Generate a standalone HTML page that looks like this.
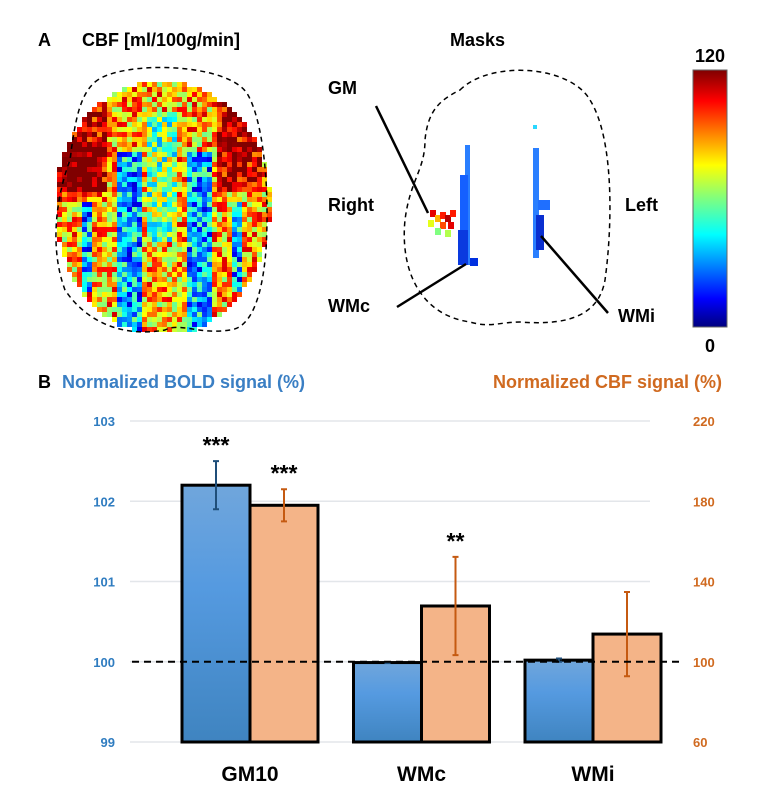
<!DOCTYPE html>
<html><head><meta charset="utf-8">
<style>
body{margin:0;background:#fff;font-family:"Liberation Sans",sans-serif;}
svg text{font-family:"Liberation Sans",sans-serif;font-weight:bold;}
</style></head>
<body>
<svg id="fig" width="768" height="804" viewBox="0 0 768 804">
  <text x="38" y="46" font-size="18">A</text>
  <text x="82" y="46" font-size="18">CBF [ml/100g/min]</text>
  <g id="brain"></g>
  <path d="M95,82 C120,60 230,62 248,95 C262,120 270,180 266,250 C262,300 250,328 230,330 C200,335 180,322 165,330 C120,338 85,320 65,290 C50,250 55,200 70,160 C75,120 80,95 95,82 Z" fill="none" stroke="#000" stroke-width="1.5" stroke-dasharray="5,4"/>
  <text x="450" y="46" font-size="18">Masks</text>
  <path d="M460,90 C490,60 570,65 590,100 C615,140 612,230 605,280 C598,320 560,325 520,322 C500,322 490,328 470,322 C420,315 400,270 405,220 C410,180 425,170 425,140 C428,110 440,100 460,90 Z" fill="none" stroke="#000" stroke-width="1.5" stroke-dasharray="5,4"/>
  <g id="masks"></g>
  <line x1="376" y1="106" x2="428" y2="213" stroke="#000" stroke-width="2.5"/>
  <line x1="397" y1="307" x2="466" y2="264" stroke="#000" stroke-width="2.5"/>
  <line x1="541" y1="236" x2="608" y2="313" stroke="#000" stroke-width="2.5"/>
  <text x="328" y="94" font-size="18">GM</text>
  <text x="328" y="211" font-size="18">Right</text>
  <text x="625" y="211" font-size="18">Left</text>
  <text x="328" y="312" font-size="18">WMc</text>
  <text x="618" y="322" font-size="18">WMi</text>
  <defs><linearGradient id="jet" x1="0" y1="1" x2="0" y2="0">
    <stop offset="0" stop-color="#00007f"/><stop offset="0.11" stop-color="#0000ff"/><stop offset="0.36" stop-color="#00ffff"/><stop offset="0.5" stop-color="#7fff7f"/><stop offset="0.63" stop-color="#ffff00"/><stop offset="0.88" stop-color="#ff0000"/><stop offset="1" stop-color="#7f0000"/></linearGradient></defs>
  <rect x="693" y="70" width="34" height="257" fill="url(#jet)" stroke="#666" stroke-width="1"/>
  <text x="710" y="62" font-size="18" text-anchor="middle">120</text>
  <text x="710" y="352" font-size="18" text-anchor="middle">0</text>

  <text x="38" y="388" font-size="18">B</text>
  <text x="62" y="388" font-size="18" fill="#3a7fc4">Normalized BOLD signal (%)</text>
  <text x="722" y="388" font-size="18" fill="#d06a20" text-anchor="end">Normalized CBF signal (%)</text>
  <g id="chart"></g>
</svg>
<script>
const categories=["GM10","WMc","WMi"];
const boldValues=[102.2,99.99,100.02];
const boldErr=[0.3,0.005,0.02];
const cbfValues=[178,127.8,113.8];
const cbfErr=[8,24.5,21];
const boldTicks=[99,100,101,102,103];
const cbfTicks=[60,100,140,180,220];
const stars=["***","**",""];
const cbfStars=["***","**",""];
const NS="http://www.w3.org/2000/svg";
function mk(tag,attrs,parent){const e=document.createElementNS(NS,tag);for(const k in attrs)e.setAttribute(k,attrs[k]);parent.appendChild(e);return e;}
const yB=v=>742-(v-99)*80.25;
const yC=v=>742-(v-60)*2.006;
const groupX=i=>250+i*171.5;
const chart=document.getElementById('chart');
const d=mk('defs',{},chart);
const g1=mk('linearGradient',{id:'bg',x1:0,y1:0,x2:0,y2:1},d);
mk('stop',{offset:0,'stop-color':'#70a6dc'},g1);mk('stop',{offset:0.4,'stop-color':'#559ae0'},g1);mk('stop',{offset:1,'stop-color':'#3f84c0'},g1);
boldTicks.forEach((t,i)=>{
  const l=mk('line',{x1:130,x2:650,y1:yB(t),y2:yB(t),stroke:'#e3e6ea','stroke-width':1.5},chart);
  
  
  const a=mk('text',{x:115,y:yB(t)+5,'font-size':13,fill:'#2f7cc0','text-anchor':'end'},chart);a.textContent=t;
  
  
  const b=mk('text',{x:693,y:yC(cbfTicks[i])+5,'font-size':13,fill:'#d06a20'},chart);b.textContent=cbfTicks[i];
  
  
});
categories.forEach((c,i)=>{
  const x=groupX(i),w=68;
  const rb=mk('rect',{x:x-w,y:yB(boldValues[i]),width:w,height:742-yB(boldValues[i]),fill:'url(#bg)',stroke:'#000','stroke-width':3},chart);
  
  
  const rc=mk('rect',{x:x,y:yC(cbfValues[i]),width:w,height:742-yC(cbfValues[i]),fill:'#f4b488',stroke:'#000','stroke-width':3},chart);
  
  
  const bx=x-w/2,cx=x+w/2;
  const e1t=yB(boldValues[i]+boldErr[i]),e1b=yB(boldValues[i]-boldErr[i]);
  const e1=mk('path',{d:`M${bx},${e1t}V${e1b}M${bx-3},${e1t}h6M${bx-3},${e1b}h6`,stroke:'#1f4e79','stroke-width':2,fill:'none'},chart);
  
  
  const e2t=yC(cbfValues[i]+cbfErr[i]),e2b=yC(cbfValues[i]-cbfErr[i]);
  const e2=mk('path',{d:`M${cx},${e2t}V${e2b}M${cx-3},${e2t}h6M${cx-3},${e2b}h6`,stroke:'#c55a11','stroke-width':2,fill:'none'},chart);
  
  
  if(i===0){const s=mk('text',{x:bx,y:e1t-8,'font-size':23,'text-anchor':'middle'},chart);s.textContent=stars[0];
    
    }
  if(cbfStars[i]){const s=mk('text',{x:cx,y:e2t-8,'font-size':23,'text-anchor':'middle'},chart);s.textContent=cbfStars[i];
    
    }
  const t=mk('text',{x:x,y:781,'font-size':21,'text-anchor':'middle'},chart);t.textContent=c;
  
  
});
const ref=mk('line',{x1:132,x2:682,y1:yB(100),y2:yB(100),stroke:'#000','stroke-width':2,'stroke-dasharray':'7,5'},chart);



/* image panels */
function jet(v){v=Math.max(0,Math.min(1,v));const r=Math.min(4*v-1.5,-4*v+4.5),g=Math.min(4*v-0.5,-4*v+3.5),b=Math.min(4*v+0.5,-4*v+2.5);const c=x=>Math.round(255*Math.max(0,Math.min(1,x)));return `rgb(${c(r)},${c(g)},${c(b)})`;}
function h(a,b){let s=Math.sin(a*12.9898+b*78.233)*43758.5453;return s-Math.floor(s);}
const brain=document.getElementById('brain');
const cs=5;
for(let y=72;y<330;y+=cs){for(let x=52;x<268;x+=cs){
  const nx=(x-160)/108,ny=(y-200)/130;
  if(nx*nx+ny*ny*(ny<0?1.15:0.95)>1)continue;
  let v=0.7+0.22*(h(x,y)-0.5)*2;
  const mid=Math.abs(x-160);
  if((mid>22&&mid<48&&y>150)||(mid>70&&mid<82&&y>200&&y<290))v-=0.4;
  if(y>110&&y<240&&mid<14)v-=0.2;
  if(y<190&&y>95&&(mid>55&&mid<100))v+=0.25;
  if(y>140&&y<200&&x<100)v+=0.15;
  mk('rect',{x:x,y:y,width:cs,height:cs,fill:jet(v)},brain);
}}
const masks=document.getElementById('masks');
const vox=[[465,145,5,120,'#2a7fff'],[460,175,8,80,'#1560ff'],[458,230,10,35,'#0a3adf'],[533,148,6,110,'#2a7fff'],[538,200,12,10,'#1f6fff'],[536,215,8,35,'#0a2fd0'],[533,125,4,4,'#2ad7ff'],[470,258,8,8,'#0030e0']];
vox.forEach(v=>mk('rect',{x:v[0],y:v[1],width:v[2],height:v[3],fill:v[4]},masks));
[[430,210,0.9],[435,215,0.7],[440,212,0.85],[445,215,0.95],[450,210,0.85],[440,222,0.8],[448,222,0.9],[435,228,0.5],[445,230,0.55],[428,220,0.6]].forEach(p=>mk('rect',{x:p[0],y:p[1],width:6,height:7,fill:jet(p[2])},masks));
</script>
</body></html>
